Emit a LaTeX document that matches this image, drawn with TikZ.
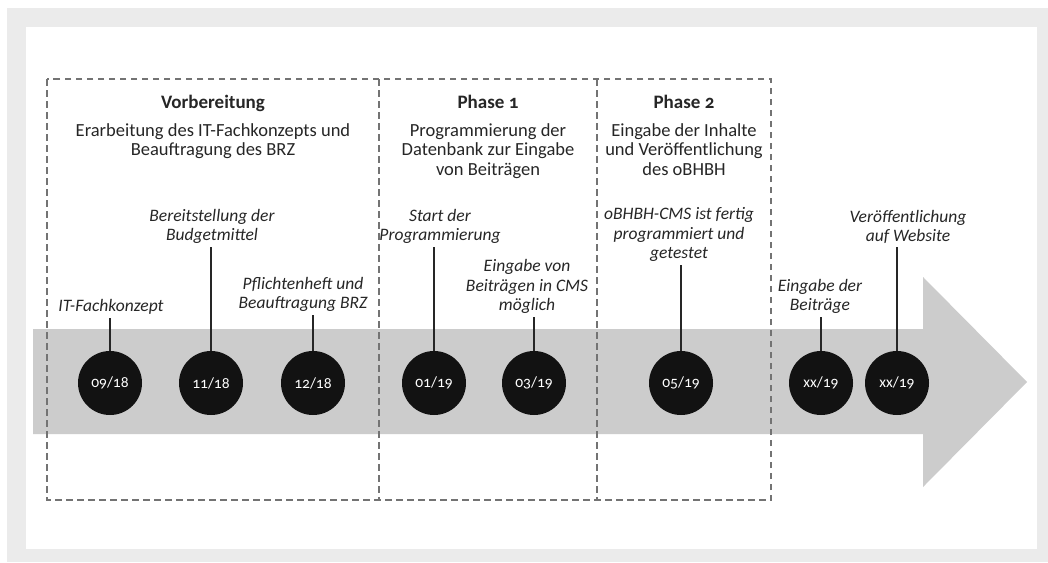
\documentclass[tikz,border=0pt]{standalone}
\usepackage{fontspec}
\setmainfont{Carlito}[Numbers=OldStyle]
\begin{document}
\begin{tikzpicture}[x=1pt,y=-1pt,
  dashline/.style={draw=black!55, line width=1.5pt, dash pattern=on 6.5pt off 4.5pt},
  phasebox/.style={inner sep=0pt, outer sep=0pt},
  title/.style={anchor=base, inner sep=0pt, font=\bfseries\fontsize{19}{21}\selectfont, text=black!85},
  desc/.style={anchor=north, inner sep=0pt, align=center, font=\fontsize{18.5}{19.5}\selectfont, text=black!85},
  dot/.style={circle, fill=black!93, minimum size=64pt, inner sep=0pt, text=white, font=\fontsize{15.5}{17}\selectfont},
  lab/.style={anchor=south, inner sep=3pt, align=center, font=\itshape\fontsize{17.5}{19.5}\selectfont, text=black!85},
  stem/.style={draw=black!85, line width=1.3pt}
]
\useasboundingbox (0,0) rectangle (1048,562);
\fill[white] (0,0) rectangle (1048,562);
\fill[black!8] (7,8) rectangle (1048,562);
\fill[white] (26,27) rectangle (1037,549);
% arrow band
\fill[black!20] (33,329) -- (923,329) -- (923,277) -- (1027,382) -- (923,487) -- (923,434) -- (33,434) -- cycle;
% phase boxes
\node[phasebox, minimum width=332pt, minimum height=421pt] (vb) at (213,289.5) {};
\node[phasebox, minimum width=218pt, minimum height=421pt] (p1) at (488,289.5) {};
\node[phasebox, minimum width=174pt, minimum height=421pt] (p2) at (684,289.5) {};
\draw[dashline] (vb.north west) rectangle (p2.south east);
\draw[dashline] (vb.north east) -- (vb.south east);
\draw[dashline] (p1.north east) -- (p1.south east);
% titles
\node[title] (t0) at (213,108) {Vorbereitung};
\node[desc] (d0) at (213,123) {Erarbeitung des IT-Fachkonzepts und\\Beauftragung des BRZ};
\node[title] (t1) at (488,108) {Phase 1};
\node[desc] (d1) at (488,123) {Programmierung der\\Datenbank zur Eingabe\\von Beiträgen};
\node[title] (t2) at (684,108) {Phase 2};
\node[desc] (d2) at (684,123) {Eingabe der Inhalte\\und Veröffentlichung\\des oBHBH};
% milestones
\node[dot] (c1) at (110,383) {09/18};
\node[dot] (c2) at (211,383) {11/18};
\node[dot] (c3) at (313,383) {12/18};
\node[dot] (c4) at (434,383) {01/19};
\node[dot] (c5) at (534,383) {03/19};
\node[dot] (c6) at (681,383) {05/19};
\node[dot] (c7) at (821,383) {xx/19};
\node[dot] (c8) at (897,383) {xx/19};
% labels
\node[lab] (l1) at (111,318) {IT-Fachkonzept};
\node[lab] (l2) at (212,247) {Bereitstellung der\\Budgetmittel};
\node[lab] (l3) at (303,315) {Pflichtenheft und\\Beauftragung BRZ};
\node[lab] (l4) at (440,247) {Start der\\Programmierung};
\node[lab] (l5) at (527,317) {Eingabe von\\Beiträgen in CMS\\möglich};
\node[lab] (l6) at (679,265) {oBHBH-CMS ist fertig\\programmiert und\\getestet};
\node[lab] (l7) at (820,317) {Eingabe der\\Beiträge};
\node[lab] (l8) at (908,247) {Veröffentlichung\\auf Website};
% stems
\foreach \i in {1,...,8}{
  \draw[stem] (c\i.north) -- (c\i.north |- l\i.south);
}
\end{tikzpicture}
\end{document}
